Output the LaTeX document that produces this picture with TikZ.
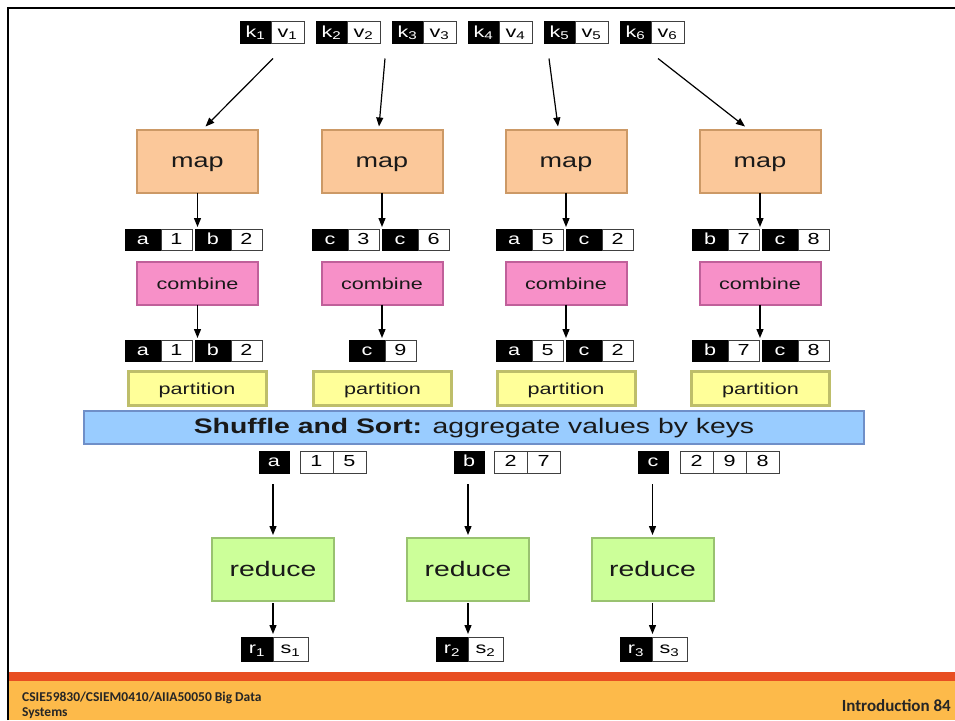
\documentclass[tikz,border=0pt]{standalone}
\usepackage{fontspec}
\setmainfont[FakeStretch=1.35]{Liberation Sans}
\newfontfamily\footfont{Carlito}
\usetikzlibrary{arrows.meta,calc}
\definecolor{mapfill}{HTML}{FBC89A}
\definecolor{mapline}{HTML}{CC9966}
\definecolor{comfill}{HTML}{F790C8}
\definecolor{comline}{HTML}{C0609A}
\definecolor{partfill}{HTML}{FFFF99}
\definecolor{partline}{HTML}{BEBE6A}
\definecolor{shuffill}{HTML}{99CCFF}
\definecolor{shufline}{HTML}{6F8FC8}
\definecolor{redfill}{HTML}{CCFF99}
\definecolor{redline}{HTML}{99C270}
\definecolor{footred}{HTML}{E84E22}
\definecolor{footorange}{HTML}{FDBA4A}
\tikzset{
 arr/.style={line width=1.2pt, -{Triangle[length=9pt,width=7pt]}},
 bigbox/.style={draw, line width=2pt, inner sep=0pt, outer sep=0pt, text=black!90, text height=1.5em, text depth=0.2em},
 mapbox/.style={bigbox, fill=mapfill, draw=mapline, minimum width=121pt, minimum height=63pt, font=\fontsize{20}{20}\selectfont},
 combox/.style={bigbox, fill=comfill, draw=comline, minimum width=121pt, minimum height=43pt, font=\fontsize{16}{16}\selectfont, text height=1.4em},
 partbox/.style={bigbox, fill=partfill, draw=partline, line width=3pt, minimum width=138pt, minimum height=34pt, font=\fontsize{16}{16}\selectfont, text height=1.4em},
 shufbox/.style={bigbox, fill=shuffill, draw=shufline, minimum width=780pt, minimum height=33pt, font=\fontsize{21}{21}\selectfont, text height=1.4em},
 redbox/.style={bigbox, fill=redfill, draw=redline, minimum width=122pt, minimum height=63pt, font=\fontsize{21}{21}\selectfont},
 cell/.style={inner sep=0pt, outer sep=0pt, line width=0.8pt, font=\fontsize{16}{16}\selectfont, text height=1.0em, text depth=0.05em},
 kb/.style={cell, draw=black, fill=black, text=white},
 vb/.style={cell, draw=black!75, fill=white, text=black},
 tk/.style={minimum width=31pt, minimum height=22pt},
 tv/.style={minimum width=33pt, minimum height=22pt},
 mk/.style={minimum width=36pt, minimum height=21pt},
 mv/.style={minimum width=31pt, minimum height=21pt},
 rk/.style={minimum width=32pt, minimum height=24pt},
 rv/.style={minimum width=35pt, minimum height=24pt},
 sk/.style={minimum width=30pt, minimum height=22pt},
 sv/.style={minimum width=33pt, minimum height=22pt},
 foot/.style={inner sep=0pt, text=black!85, font=\footfont\bfseries\fontsize{13.5}{13.5}\selectfont},
}
\newcommand{\kvp}[6]{%
 \node[kb,#6k,anchor=west] (#1k) at (#2,#3) {#4};
 \node[vb,#6v,anchor=west] (#1v) at (#1k.east) {#5};}
\begin{document}
\begin{tikzpicture}[x=1pt,y=-1pt]
\useasboundingbox (0,0) rectangle (955,720);
\fill[white] (0,0) rectangle (955,720);
% footer
\fill[footorange] (8,681) rectangle (955,720);
\fill[footred] (8,672) rectangle (955,681);
\draw[line width=2pt] (8,720) -- (8,8) -- (955,8);
\node[foot, anchor=base west] (ft1) at (22,701) {CSIE59830/CSIEM0410/AIIA50050 Big Data};
\node[foot, anchor=base west] (ft2) at (22,716) {Systems};
\node[foot, anchor=base east, font=\footfont\bfseries\fontsize{17}{17}\selectfont] (ft3) at (951,711) {Introduction 84};
% top input pairs
\kvp{p1}{240}{32.5}{k\textsubscript{1}}{v\textsubscript{1}}{t}
\kvp{p2}{316}{32.5}{k\textsubscript{2}}{v\textsubscript{2}}{t}
\kvp{p3}{392}{32.5}{k\textsubscript{3}}{v\textsubscript{3}}{t}
\kvp{p4}{468}{32.5}{k\textsubscript{4}}{v\textsubscript{4}}{t}
\kvp{p5}{544}{32.5}{k\textsubscript{5}}{v\textsubscript{5}}{t}
\kvp{p6}{620}{32.5}{k\textsubscript{6}}{v\textsubscript{6}}{t}
% map boxes
\node[mapbox] (map1) at (197.5,161) {map};
\node[mapbox] (map2) at (382,161) {map};
\node[mapbox] (map3) at (566,161) {map};
\node[mapbox] (map4) at (760,161) {map};
% map outputs
\kvp{ma1}{125}{239.5}{a}{1}{m}
\kvp{mb1}{195}{239.5}{b}{2}{m}
\kvp{mc3}{312}{239.5}{c}{3}{m}
\kvp{mc6}{382}{239.5}{c}{6}{m}
\kvp{ma5}{496}{239.5}{a}{5}{m}
\kvp{mc2}{566}{239.5}{c}{2}{m}
\kvp{mb7}{692}{239.5}{b}{7}{m}
\kvp{mc8}{762}{239.5}{c}{8}{m}
% combine boxes
\node[combox] (com1) at (197.5,283) {combine};
\node[combox] (com2) at (382,283) {combine};
\node[combox] (com3) at (566,283) {combine};
\node[combox] (com4) at (760,283) {combine};
% combine outputs
\kvp{ca1}{125}{350.5}{a}{1}{m}
\kvp{cb1}{195}{350.5}{b}{2}{m}
\kvp{cc9}{349}{350.5}{c}{9}{m}
\kvp{ca5}{496}{350.5}{a}{5}{m}
\kvp{cc2}{566}{350.5}{c}{2}{m}
\kvp{cb7}{692}{350.5}{b}{7}{m}
\kvp{cc8}{762}{350.5}{c}{8}{m}
% partition boxes
\node[partbox] (part1) at (197,388.5) {partition};
\node[partbox] (part2) at (382.5,388.5) {partition};
\node[partbox] (part3) at (566,388.5) {partition};
\node[partbox] (part4) at (760.5,388.5) {partition};
% shuffle bar
\node[shufbox] (shuf) at (474,427.5) {\textbf{Shuffle and Sort:} aggregate values by keys};
% shuffle outputs
\node[kb,sk,anchor=west] (sak) at (259,462) {a};
\node[vb,sv,anchor=west] (sa1) at (300,462) {1};
\node[vb,sv,anchor=west] (sa2) at (sa1.east) {5};
\node[kb,sk,anchor=west] (sbk) at (454,462) {b};
\node[vb,sv,anchor=west] (sb1) at (494,462) {2};
\node[vb,sv,anchor=west] (sb2) at (sb1.east) {7};
\node[kb,sk,anchor=west] (sck) at (638,462) {c};
\node[vb,sv,anchor=west] (sc1) at (680,462) {2};
\node[vb,sv,anchor=west] (sc2) at (sc1.east) {9};
\node[vb,sv,anchor=west] (sc3) at (sc2.east) {8};
% reduce boxes
\node[redbox] (red1) at (273,569.5) {reduce};
\node[redbox] (red2) at (468,569.5) {reduce};
\node[redbox] (red3) at (652.5,569.5) {reduce};
% results
\kvp{r1}{241}{649}{r\textsubscript{1}}{s\textsubscript{1}}{r}
\kvp{r2}{436}{649}{r\textsubscript{2}}{s\textsubscript{2}}{r}
\kvp{r3}{620}{649}{r\textsubscript{3}}{s\textsubscript{3}}{r}
% arrows: input -> map
\draw[arr] ($(p1v.south west)+(2,15)$) -- ($(map1.north)+(8,-3)$);
\draw[arr] ($(p2v.south east)+(5,15)$) -- ($(map2.north)+(-3,-3)$);
\draw[arr] ($(p5k.south west)+(5,15)$) -- ($(map3.north)+(-8,-3)$);
\draw[arr] ($(p6v.south west)+(7,15)$) -- ($(map4.north)+(-15,-3)$);
% map -> outputs
\draw[arr, shorten >=2pt] (map1.south) -- (map1.south |- ma1k.north);
\draw[arr, shorten >=2pt] (map2.south) -- (map2.south |- mc3k.north);
\draw[arr, shorten >=2pt] (map3.south) -- (map3.south |- ma5k.north);
\draw[arr, shorten >=2pt] (map4.south) -- (map4.south |- mb7k.north);
% combine -> outputs
\draw[arr, shorten >=2pt] (com1.south) -- (com1.south |- ca1k.north);
\draw[arr, shorten >=2pt] (com2.south) -- (com2.south |- cc9k.north);
\draw[arr, shorten >=2pt] (com3.south) -- (com3.south |- ca5k.north);
\draw[arr, shorten >=2pt] (com4.south) -- (com4.south |- cb7k.north);
% shuffle outputs -> reduce
\draw[arr, shorten <=11pt, shorten >=3pt] (red1.north |- sak.south) -- (red1.north);
\draw[arr, shorten <=11pt, shorten >=3pt] (red2.north |- sbk.south) -- (red2.north);
\draw[arr, shorten <=11pt, shorten >=3pt] (red3.north |- sck.south) -- (red3.north);
% reduce -> results
\draw[arr, shorten <=2pt, shorten >=3pt] (red1.south) -- (red1.south |- r1k.north);
\draw[arr, shorten <=2pt, shorten >=3pt] (red2.south) -- (red2.south |- r2k.north);
\draw[arr, shorten <=2pt, shorten >=3pt] (red3.south) -- (red3.south |- r3k.north);
\end{tikzpicture}
\end{document}
